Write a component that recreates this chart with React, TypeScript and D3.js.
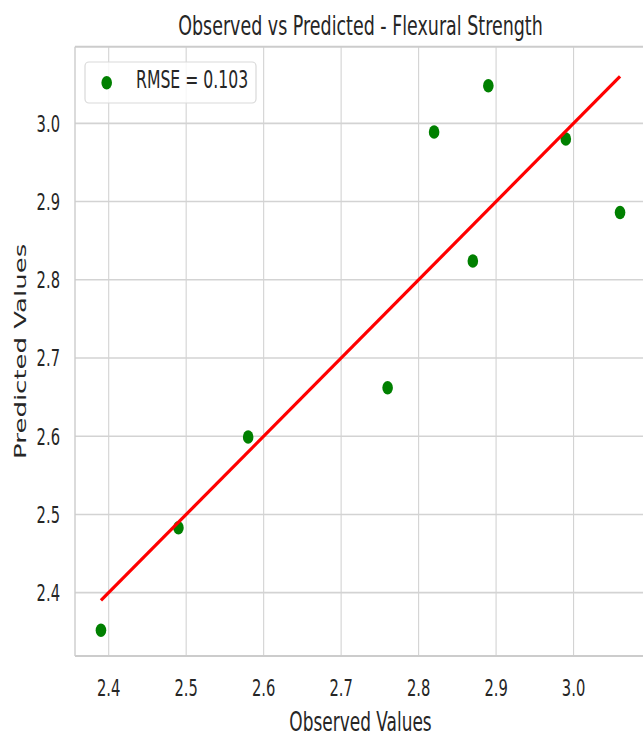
import React, { useEffect, useRef } from "react";
import * as d3 from "d3";

// values
const observed = [2.39, 2.49, 2.58, 2.76, 2.82, 2.87, 2.89, 2.99, 3.06];
const predicted = [2.352, 2.483, 2.599, 2.662, 2.989, 2.824, 3.048, 2.98, 2.886];
const xTicks = [2.4, 2.5, 2.6, 2.7, 2.8, 2.9, 3.0];
const yTicks = [2.4, 2.5, 2.6, 2.7, 2.8, 2.9, 3.0];
const xDomain = [2.3565, 3.0935];
const yDomain = [2.319, 3.098];
const rmseLabel = "RMSE = 0.103";

const W = 643;
const H = 736;
const SQ = 0.64; // the picture is squeezed horizontally
const FONT = "DejaVu Sans";
const TXT = "#262626";

export default function App() {
  const ref = useRef<SVGSVGElement>(null);

  useEffect(() => {
    const svg = d3.select(ref.current);
    svg.selectAll("*").remove();

    const left = 75, right = 646, top = 46.7, bottom = 656;
    const x = d3.scaleLinear().domain(xDomain).range([left, right]);
    const y = d3.scaleLinear().domain(yDomain).range([bottom, top]);

    const text = (tx: number, ty: number, s: string, size: number, anchor = "middle", rot = 0) =>
      svg
        .append("text")
        .attr("transform", `translate(${tx},${ty}) scale(${SQ},1)` + (rot ? ` rotate(${rot})` : ""))
        .attr("text-anchor", anchor)
        .attr("font-family", FONT)
        .attr("font-size", size)
        .attr("fill", TXT)
        .text(s);

    svg.append("rect").attr("x", left).attr("y", top).attr("width", right - left).attr("height", bottom - top).attr("fill", "#fff");

    // grid
    const g = svg.append("g");
    g.selectAll(".vg")
      .data(xTicks)
      .enter()
      .append("line")
      .attr("x1", d => x(d))
      .attr("x2", d => x(d))
      .attr("y1", top)
      .attr("y2", bottom)
      .attr("stroke", "#d3d3d3")
      .attr("stroke-width", 1.1);
    g.selectAll(".hg")
      .data(yTicks)
      .enter()
      .append("line")
      .attr("x1", left)
      .attr("x2", right)
      .attr("y1", d => y(d))
      .attr("y2", d => y(d))
      .attr("stroke", "#d3d3d3")
      .attr("stroke-width", 1.6);

    // spines
    svg.append("line").attr("x1", left).attr("x2", right).attr("y1", top).attr("y2", top).attr("stroke", "#cccccc").attr("stroke-width", 2);
    svg.append("line").attr("x1", left).attr("x2", right).attr("y1", bottom).attr("y2", bottom).attr("stroke", "#cccccc").attr("stroke-width", 2);
    svg.append("line").attr("x1", left).attr("x2", left).attr("y1", top).attr("y2", bottom).attr("stroke", "#cccccc").attr("stroke-width", 1.4);
    svg.append("line").attr("x1", right).attr("x2", right).attr("y1", top).attr("y2", bottom).attr("stroke", "#cccccc").attr("stroke-width", 1.4);

    // points
    const pts = observed.map((o, i) => [o, predicted[i]]);
    svg
      .selectAll(".pt")
      .data(pts)
      .enter()
      .append("ellipse")
      .attr("cx", d => x(d[0]))
      .attr("cy", d => y(d[1]))
      .attr("rx", 5.3)
      .attr("ry", 6.8)
      .attr("fill", "green");

    // identity line
    const lo = d3.min(observed) as number;
    const hi = d3.max(observed) as number;
    svg
      .append("line")
      .attr("x1", x(lo))
      .attr("y1", y(lo))
      .attr("x2", x(hi))
      .attr("y2", y(hi))
      .attr("stroke", "red")
      .attr("stroke-width", 3.2);

    // tick labels
    xTicks.forEach(t => text(x(t), 696, t.toFixed(1), 23));
    yTicks.forEach(t => text(60, y(t) + 8.3, t.toFixed(1), 23, "end"));

    // legend
    svg
      .append("rect")
      .attr("x", 85)
      .attr("y", 62)
      .attr("width", 171)
      .attr("height", 41)
      .attr("rx", 4)
      .attr("fill", "rgba(255,255,255,0.8)")
      .attr("stroke", "#d9d9d9")
      .attr("stroke-width", 1.2);
    svg.append("ellipse").attr("cx", 106.7).attr("cy", 82.7).attr("rx", 5.3).attr("ry", 6.8).attr("fill", "green");
    text(136, 88, rmseLabel, 24.5, "start");

    // titles
    text((left + right) / 2, 35, "Observed vs Predicted - Flexural Strength", 27.3);
    text((left + right) / 2, 731, "Observed Values", 26.5);
    text(25.5, (top + bottom) / 2, "Predicted Values", 26, "middle", -90);
  }, []);

  return <svg ref={ref} width={W} height={H} style={{ position: "absolute", left: 0, top: 0, background: "#fff" }} />;
}
